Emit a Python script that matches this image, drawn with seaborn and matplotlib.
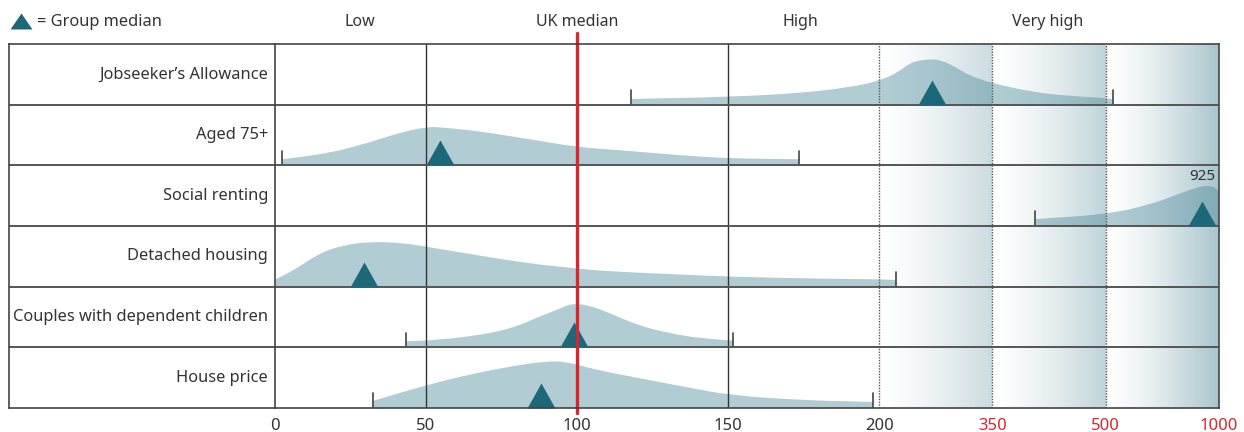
import numpy as np
import matplotlib
matplotlib.use('Agg')
import matplotlib.pyplot as plt
import matplotlib.transforms as mtransforms
from matplotlib.path import Path
from matplotlib.patches import PathPatch
from matplotlib.markers import MarkerStyle
import seaborn as sns

# rows, top to bottom
labels = ["Jobseeker\u2019s Allowance", "Aged 75+", "Social renting",
          "Detached housing", "Couples with dependent children", "House price"]
medians = [270, 54.6, 925, 29.5, 99, 88]
range_lo = [118, 2.3, 407, 0, 43.4, 32.3]
range_hi = [531, 173.5, 1000, 222, 151.7, 198]

# density outline per row: value, height as share of row
jsa_x = [118, 150, 174, 190, 200, 226, 240, 253, 270, 283, 301, 318, 350, 403, 448, 531]
jsa_h = [0.094, 0.127, 0.19, 0.285, 0.39, 0.54, 0.68, 0.73, 0.75, 0.73, 0.62, 0.49, 0.35, 0.21, 0.145, 0.09]
aged_x = [2.3, 18.2, 31.5, 41.4, 50, 54.6, 67.9, 84.4, 100, 114.2, 134.1, 150, 173.5]
aged_h = [0.10, 0.20, 0.38, 0.54, 0.63, 0.63, 0.56, 0.43, 0.30, 0.25, 0.165, 0.115, 0.10]
social_x = [407, 500, 696, 830, 920, 973, 1000]
social_h = [0.115, 0.19, 0.35, 0.54, 0.66, 0.66, 0.565]
detached_x = [0, 6.6, 14.9, 23.2, 31.5, 41.4, 50, 67.9, 84.4, 100, 107.6, 134.1, 150, 180.5, 222]
detached_h = [0.115, 0.28, 0.56, 0.69, 0.74, 0.725, 0.66, 0.51, 0.38, 0.30, 0.26, 0.20, 0.165, 0.13, 0.11]
couples_x = [43.4, 50, 64.6, 77.8, 87.7, 94.4, 98.3, 104.3, 110.9, 120.9, 130.8, 140.7, 151.7]
couples_h = [0.10, 0.11, 0.175, 0.30, 0.51, 0.64, 0.725, 0.69, 0.56, 0.35, 0.23, 0.15, 0.11]
house_x = [32.3, 50.3, 65, 78.5, 90.2, 97, 105.3, 118.7, 135.4, 150.7, 173.5, 198]
house_h = [0.115, 0.38, 0.56, 0.69, 0.775, 0.76, 0.64, 0.51, 0.35, 0.21, 0.13, 0.10]
curves = [(jsa_x, jsa_h), (aged_x, aged_h), (social_x, social_h),
          (detached_x, detached_h), (couples_x, couples_h), (house_x, house_h)]

ticks = [0, 50, 100, 150, 200, 350, 500, 1000]
tick_labels = [str(t) for t in ticks]
bands = ["Low", "UK median", "High", "Very high"]
band_pos = [28, 100, 174, 423]
shade_bands = [(200, 350), (350, 500), (500, 1000)]
shade_max = [0.29, 0.35, 0.48]

# piecewise axis: linear to 200, then compressed
bx = [0, 200, 350, 500, 1000]
by = [0, 200, 237.5, 275, 312.5]


def fwd(x):
    x = np.asarray(x, float)
    return np.where(x <= 200, x,
                    np.where(x > 1000, 312.5 + (x - 1000) * 0.075, np.interp(x, bx, by)))


def inv(y):
    y = np.asarray(y, float)
    return np.where(y <= 200, y,
                    np.where(y > 312.5, 1000 + (y - 312.5) / 0.075, np.interp(y, by, bx)))


def smooth_patch(xs, hs, base, **kw):
    # quadratic bezier through midpoints, knots as control points
    pts = list(zip(xs, [base + h for h in hs]))
    verts = [(xs[0], base), pts[0]]
    codes = [Path.MOVETO, Path.LINETO]
    mids = [((pts[i][0] + pts[i + 1][0]) / 2, (pts[i][1] + pts[i + 1][1]) / 2)
            for i in range(len(pts) - 1)]
    verts.append(mids[0])
    codes.append(Path.LINETO)
    for i in range(1, len(pts) - 1):
        verts += [pts[i], mids[i]]
        codes += [Path.CURVE3, Path.CURVE3]
    verts += [pts[-1], (xs[-1], base), (xs[0], base)]
    codes += [Path.LINETO, Path.LINETO, Path.CLOSEPOLY]
    return PathPatch(Path(verts, codes), **kw)


sns.set_theme(style='white')
plt.rcParams['font.family'] = ['Noto Sans', 'DejaVu Sans']

fill_col = '#b1ccd3'
tri_col = '#1c687a'
grad_col = '#4a8594'
txt = '#333333'
line_col = '#444444'

fig = plt.figure(figsize=(12.44, 4.32), dpi=100)
# label column first so the chart's left edge is drawn over it
axl = fig.add_axes([9 / 1244, 24 / 432, 266 / 1244, 364 / 432])
ax = fig.add_axes([275 / 1244, 24 / 432, 944 / 1244, 364 / 432])

ax.set_xscale('function', functions=(fwd, inv))
ax.set_xlim(0, 1000)
ax.set_ylim(0, 6)
axl.set_xlim(0, 1)
axl.set_ylim(0, 6)

n = len(labels)
bases = [n - 1 - k for k in range(n)]

for k in range(n):
    xs, hs = curves[k]
    b = bases[k]
    ax.add_patch(smooth_patch(xs, hs, b, facecolor=fill_col, lw=0, zorder=1))
    for v in (range_lo[k], range_hi[k]):
        if 0 < v < 1000:
            ax.plot([v, v], [b, b + 0.24], color=line_col, lw=1.2, zorder=3)
    axl.text(0.974, b + 0.5, labels[k], ha='right', va='center', fontsize=11.8, color=txt)

# shaded bands beyond 200
for (a, c), amax in zip(shade_bands, shade_max):
    edges = np.linspace(a, c, 61)
    for i in range(60):
        t = (i + 0.5) / 60
        ax.axvspan(edges[i], edges[i + 1], color=grad_col, alpha=amax * t ** 1.4,
                   lw=0, antialiased=False, zorder=2)

for v in [50, 150]:
    ax.axvline(v, color='#333333', lw=1, zorder=3)
for v in [200, 350, 500]:
    ax.axvline(v, color='#555555', lw=1, ls=(0, (1, 1)), zorder=3)
for y in range(1, n):
    ax.axhline(y, color='#555555', lw=1.4, zorder=3)
    axl.axhline(y, color='#555555', lw=1.4, zorder=3)

tri = MarkerStyle(Path([(-0.56, 0), (0.56, 0), (0, 1), (-0.56, 0)], closed=True))
sns.scatterplot(x=medians, y=bases, marker=tri, s=36 ** 2, color=tri_col,
                linewidth=0, ax=ax, zorder=4, legend=False)

ax.text(925, 3.82, '925', ha='center', va='center', fontsize=11, color=txt)

ax.axvline(100, ymin=-0.014, ymax=1.03, color='#d7262c', lw=2.4, clip_on=False, zorder=5)

trans = mtransforms.blended_transform_factory(ax.transData, ax.transAxes)
for t, p in zip(bands, band_pos):
    ax.text(p, 1.06, t, transform=trans, ha='center', va='center', fontsize=11.5, color=txt)

legtri = MarkerStyle(Path([(-0.5, 0), (0.5, 0), (0, 0.727), (-0.5, 0)], closed=True))
axl.scatter([21 / 1244], [1 - 29 / 432], marker=legtri, s=23 ** 2, color=tri_col,
            linewidth=0, transform=fig.transFigure, clip_on=False)
fig.text(37 / 1244, 1 - 22 / 432, '= Group median', ha='left', va='center',
         fontsize=11.8, color=txt)

ax.set_xticks(ticks)
ax.set_xticklabels(tick_labels)
ax.set_xticks([], minor=True)
ax.tick_params(axis='x', length=0, pad=7, labelsize=12, colors=txt)
for lab in ax.get_xticklabels()[5:]:
    lab.set_color('#d7262c')
ax.set_yticks([])
axl.set_xticks([])
axl.set_yticks([])

for a_ in (ax, axl):
    for s in a_.spines.values():
        s.set_color(line_col)
        s.set_linewidth(1.2)
        s.set_zorder(6)
axl.spines['right'].set_visible(False)

fig.savefig('out.png', dpi=100)
